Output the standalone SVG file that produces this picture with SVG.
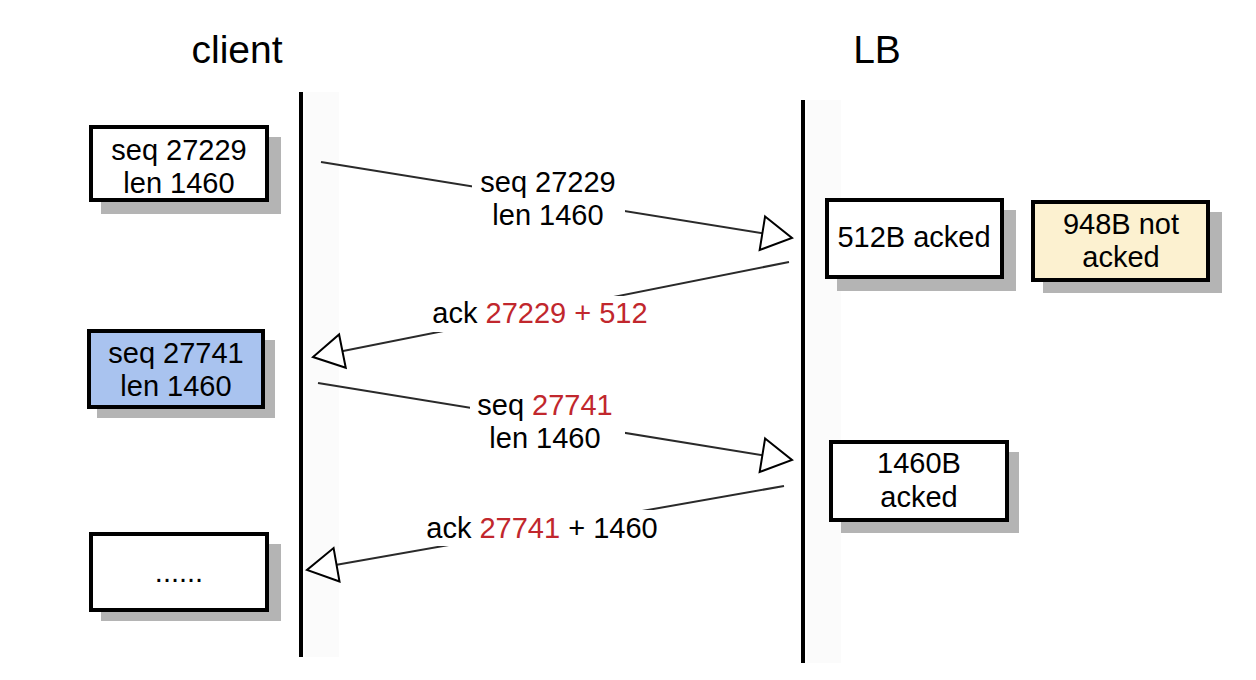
<svg xmlns="http://www.w3.org/2000/svg" width="1256" height="680" viewBox="0 0 1256 680">
<defs>
<style>
text{font-family:"Liberation Sans",Arial,Helvetica,sans-serif;fill:#000;}
.t{font-size:29px;text-anchor:middle;}
.title{font-size:39px;text-anchor:middle;}
.r{fill:#c1272d;}
.box{stroke:#000;stroke-width:4;}
.sh{fill:#b4b4b4;}
.life{stroke:#000;stroke-width:4;}
.band{fill:#fbfbfb;}
.msg{stroke:#2a2a2a;stroke-width:2;fill:none;marker-end:url(#tri);}
.lbl{fill:#fff;}
</style>
<marker id="tri" markerUnits="userSpaceOnUse" markerWidth="34" markerHeight="38" viewBox="-2 -2 34 38" refX="30" refY="17" orient="auto">
<path d="M0,0 L30,17 L0,34 Z" fill="#fff" stroke="#000" stroke-width="2"/>
</marker>
</defs>
<rect width="1256" height="680" fill="#fff"/>

<g id="lifelines">
<rect class="band" x="305" y="92" width="34" height="565"/>
<rect class="band" x="807" y="100" width="34" height="563"/>
<line class="life" x1="301" y1="92" x2="301" y2="657"/>
<line class="life" x1="803" y1="100" x2="803" y2="663"/>
</g>

<g id="title-client"><text class="title" x="237" y="63">client</text></g>
<g id="title-lb"><text class="title" x="877" y="63">LB</text></g>

<g id="connectors">
<line class="msg" x1="321" y1="162" x2="792" y2="238"/>
<line class="msg" x1="789" y1="262" x2="313" y2="357"/>
<line class="msg" x1="318" y1="383" x2="792" y2="460"/>
<line class="msg" x1="784" y1="486" x2="307" y2="570"/>
<rect class="lbl" x="472" y="166" width="153" height="66"/>
<text class="t" x="548" y="192">seq 27229</text>
<text class="t" x="548" y="225">len 1460</text>
<rect class="lbl" x="428" y="296" width="225" height="36"/>
<text class="t" x="540" y="323">ack <tspan class="r">27229 + 512</tspan></text>
<rect class="lbl" x="470" y="388" width="155" height="67"/>
<text class="t" x="545" y="415">seq <tspan class="r">27741</tspan></text>
<text class="t" x="545" y="448">len 1460</text>
<rect class="lbl" x="418" y="510" width="247" height="36"/>
<text class="t" x="542" y="538">ack <tspan class="r">27741</tspan> + 1460</text>
</g>

<g id="box-seq1">
<rect class="sh" x="101" y="137" width="180" height="77"/>
<rect class="box" x="91" y="127" width="176" height="73" fill="#fff"/>
<text class="t" x="179" y="160">seq 27229</text>
<text class="t" x="179" y="193">len 1460</text>
</g>

<g id="box-seq2">
<rect class="sh" x="97" y="340" width="178" height="78"/>
<rect class="box" x="89" y="331" width="174" height="76" fill="#a9c3ef"/>
<text class="t" x="176" y="363">seq 27741</text>
<text class="t" x="176" y="396">len 1460</text>
</g>

<g id="box-dots">
<rect class="sh" x="101" y="544" width="180" height="77"/>
<rect class="box" x="91" y="534" width="176" height="76" fill="#fff"/>
<text class="t" x="179" y="582">......</text>
</g>

<g id="box-512">
<rect class="sh" x="837" y="210" width="179" height="81"/>
<rect class="box" x="827" y="200" width="175" height="77" fill="#fff"/>
<text class="t" x="914" y="247">512B acked</text>
</g>

<g id="box-948">
<rect class="sh" x="1043" y="212" width="179" height="81"/>
<rect class="box" x="1033" y="202" width="175" height="78" fill="#fcf1d0"/>
<text class="t" x="1121" y="234">948B not</text>
<text class="t" x="1121" y="267">acked</text>
</g>

<g id="box-1460">
<rect class="sh" x="841" y="452" width="178" height="81"/>
<rect class="box" x="831" y="442" width="176" height="78" fill="#fff"/>
<text class="t" x="919" y="473">1460B</text>
<text class="t" x="919" y="507">acked</text>
</g>
</svg>
